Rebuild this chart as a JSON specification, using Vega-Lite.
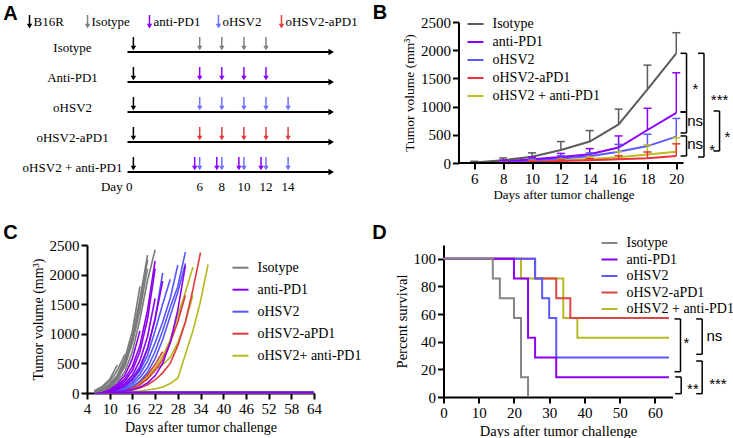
{
"$schema":"https://vega.github.io/schema/vega-lite/v6.json",
"background":"white",
"padding":{"left":3,"top":2,"right":0,"bottom":0},
"columns":2,
"bounds":"flush",
"spacing":{"row":82,"column":129.5},
"resolve":{"scale":{"color":"independent","x":"independent","y":"independent"},"legend":{"color":"independent"},"axis":{"x":"independent","y":"independent"}},
"config":{
 "view":{"stroke":null},
 "style":{"guide-title":{"fontWeight":300}},
 "axis":{"grid":false,"format":"d","domainColor":"#000","domainWidth":2,"tickColor":"#000","tickWidth":2,"tickSize":6,"labelFont":"Liberation Serif","labelFontSize":15,"labelColor":"#000","titleFont":"Liberation Serif","titleColor":"#000","titleFontWeight":300,"labelPadding":2,"labelFlush":false,"labelOverlap":false},
 "legend":{"orient":"none","symbolType":"stroke","symbolSize":256,"symbolStrokeWidth":2,"labelFont":"Liberation Serif","labelFontSize":14,"labelColor":"#000","labelOffset":8,"padding":0,"labelLimit":300}
},
"datasets":{
 "alegend":[{"lab":"B16R","pos":-9.40,"g":"k"},{"lab":"Isotype","pos":-4.15,"g":"iso"},{"lab":"anti-PD1","pos":1.457,"g":"apd1"},{"lab":"oHSV2","pos":7.70,"g":"ohsv"},{"lab":"oHSV2-aPD1","pos":13.40,"g":"red"}],
 "arows":[{"row":1,"lab":"Isotype"},{"row":2,"lab":"Anti-PD1"},{"row":3,"lab":"oHSV2"},{"row":4,"lab":"oHSV2-aPD1"},{"row":5,"lab":"oHSV2 + anti-PD1"}],
 "aarr":[
  {"row":1,"day":0,"g":"k"},{"row":1,"day":6,"g":"iso"},{"row":1,"day":8,"g":"iso"},{"row":1,"day":10,"g":"iso"},{"row":1,"day":12,"g":"iso"},
  {"row":2,"day":0,"g":"k"},{"row":2,"day":6,"g":"apd1"},{"row":2,"day":8,"g":"apd1"},{"row":2,"day":10,"g":"apd1"},{"row":2,"day":12,"g":"apd1"},
  {"row":3,"day":0,"g":"k"},{"row":3,"day":6,"g":"ohsv"},{"row":3,"day":8,"g":"ohsv"},{"row":3,"day":10,"g":"ohsv"},{"row":3,"day":12,"g":"ohsv"},{"row":3,"day":14,"g":"ohsv"},
  {"row":4,"day":0,"g":"k"},{"row":4,"day":6,"g":"red"},{"row":4,"day":8,"g":"red"},{"row":4,"day":10,"g":"red"},{"row":4,"day":12,"g":"red"},{"row":4,"day":14,"g":"red"},
  {"row":5,"day":0,"g":"k"},{"row":5,"day":6,"g":"ohsv"},{"row":5,"day":8,"g":"ohsv"},{"row":5,"day":10,"g":"ohsv"},{"row":5,"day":12,"g":"ohsv"},{"row":5,"day":14,"g":"ohsv"}],
 "aarr2":[{"row":5,"day":6,"g":"apd1"},{"row":5,"day":8,"g":"apd1"},{"row":5,"day":10,"g":"apd1"},{"row":5,"day":12,"g":"apd1"}],
 "adays":[{"lab":"6","day":6},{"lab":"8","day":8},{"lab":"10","day":10},{"lab":"12","day":12},{"lab":"14","day":14}],
 "bm":[
  {"g":"oHSV2 + anti-PD1","day":6,"m":5,"e":8},{"g":"oHSV2 + anti-PD1","day":8,"m":15,"e":25},{"g":"oHSV2 + anti-PD1","day":10,"m":30,"e":50},{"g":"oHSV2 + anti-PD1","day":12,"m":45,"e":70},{"g":"oHSV2 + anti-PD1","day":14,"m":70,"e":110},{"g":"oHSV2 + anti-PD1","day":16,"m":100,"e":200},{"g":"oHSV2 + anti-PD1","day":18,"m":150,"e":320},{"g":"oHSV2 + anti-PD1","day":20,"m":200,"e":450},
  {"g":"oHSV2-aPD1","day":6,"m":5,"e":8},{"g":"oHSV2-aPD1","day":8,"m":10,"e":20},{"g":"oHSV2-aPD1","day":10,"m":20,"e":35},{"g":"oHSV2-aPD1","day":12,"m":35,"e":55},{"g":"oHSV2-aPD1","day":14,"m":50,"e":80},{"g":"oHSV2-aPD1","day":16,"m":65,"e":130},{"g":"oHSV2-aPD1","day":18,"m":85,"e":195},{"g":"oHSV2-aPD1","day":20,"m":125,"e":340},
  {"g":"oHSV2","day":6,"m":5,"e":10},{"g":"oHSV2","day":8,"m":25,"e":40},{"g":"oHSV2","day":10,"m":50,"e":80},{"g":"oHSV2","day":12,"m":80,"e":130},{"g":"oHSV2","day":14,"m":120,"e":180},{"g":"oHSV2","day":16,"m":200,"e":330},{"g":"oHSV2","day":18,"m":300,"e":510},{"g":"oHSV2","day":20,"m":467,"e":790},
  {"g":"anti-PD1","day":6,"m":5,"e":15},{"g":"anti-PD1","day":8,"m":30,"e":50},{"g":"anti-PD1","day":10,"m":65,"e":100},{"g":"anti-PD1","day":12,"m":105,"e":170},{"g":"anti-PD1","day":14,"m":155,"e":255},{"g":"anti-PD1","day":16,"m":275,"e":480},{"g":"anti-PD1","day":18,"m":585,"e":970},{"g":"anti-PD1","day":20,"m":890,"e":1600},
  {"g":"Isotype","day":6,"m":10,"e":30},{"g":"Isotype","day":8,"m":50,"e":90},{"g":"Isotype","day":10,"m":110,"e":180},{"g":"Isotype","day":12,"m":230,"e":380},{"g":"Isotype","day":14,"m":380,"e":575},{"g":"Isotype","day":16,"m":685,"e":955},{"g":"Isotype","day":18,"m":1305,"e":1735},{"g":"Isotype","day":20,"m":1945,"e":2310}],
 "bbr":[{"bx":20.71,"y1":1945,"y2":904},{"bx":20.71,"y1":904,"y2":532},{"bx":20.71,"y1":479,"y2":124},{"bx":21.92,"y1":1945,"y2":106},{"bx":23.0,"y1":922,"y2":213}],
 "bns":[{"lab":"ns","lx":21.31,"ly":745},{"lab":"ns","lx":21.31,"ly":337}],
 "bstar":[{"lab":"*","lx":21.33,"ly":1400},{"lab":"***","lx":23.0,"ly":1206},{"lab":"*","lx":22.49,"ly":319},{"lab":"*","lx":23.55,"ly":550}],
 "cl":[
  {"id":"O1","g":"oHSV2+ anti-PD1","d":6,"v":5},{"id":"O1","g":"oHSV2+ anti-PD1","d":8,"v":10},{"id":"O1","g":"oHSV2+ anti-PD1","d":10,"v":20},{"id":"O1","g":"oHSV2+ anti-PD1","d":12,"v":35},{"id":"O1","g":"oHSV2+ anti-PD1","d":14,"v":60},{"id":"O1","g":"oHSV2+ anti-PD1","d":16,"v":100},{"id":"O1","g":"oHSV2+ anti-PD1","d":18,"v":160},{"id":"O1","g":"oHSV2+ anti-PD1","d":20,"v":240},
  {"id":"O2","g":"oHSV2+ anti-PD1","d":6,"v":5},{"id":"O2","g":"oHSV2+ anti-PD1","d":8,"v":10},{"id":"O2","g":"oHSV2+ anti-PD1","d":10,"v":18},{"id":"O2","g":"oHSV2+ anti-PD1","d":12,"v":30},{"id":"O2","g":"oHSV2+ anti-PD1","d":14,"v":55},{"id":"O2","g":"oHSV2+ anti-PD1","d":16,"v":100},{"id":"O2","g":"oHSV2+ anti-PD1","d":18,"v":170},{"id":"O2","g":"oHSV2+ anti-PD1","d":20,"v":280},{"id":"O2","g":"oHSV2+ anti-PD1","d":22,"v":420},{"id":"O2","g":"oHSV2+ anti-PD1","d":24,"v":620},{"id":"O2","g":"oHSV2+ anti-PD1","d":26,"v":900},{"id":"O2","g":"oHSV2+ anti-PD1","d":28,"v":1300},{"id":"O2","g":"oHSV2+ anti-PD1","d":30,"v":1700},{"id":"O2","g":"oHSV2+ anti-PD1","d":32,"v":2130},
  {"id":"O3","g":"oHSV2+ anti-PD1","d":6,"v":4},{"id":"O3","g":"oHSV2+ anti-PD1","d":8,"v":8},{"id":"O3","g":"oHSV2+ anti-PD1","d":10,"v":14},{"id":"O3","g":"oHSV2+ anti-PD1","d":12,"v":25},{"id":"O3","g":"oHSV2+ anti-PD1","d":14,"v":45},{"id":"O3","g":"oHSV2+ anti-PD1","d":16,"v":80},{"id":"O3","g":"oHSV2+ anti-PD1","d":18,"v":150},{"id":"O3","g":"oHSV2+ anti-PD1","d":20,"v":260},{"id":"O3","g":"oHSV2+ anti-PD1","d":22,"v":400},{"id":"O3","g":"oHSV2+ anti-PD1","d":24,"v":480},{"id":"O3","g":"oHSV2+ anti-PD1","d":26,"v":600},{"id":"O3","g":"oHSV2+ anti-PD1","d":28,"v":850},{"id":"O3","g":"oHSV2+ anti-PD1","d":30,"v":1200},{"id":"O3","g":"oHSV2+ anti-PD1","d":32,"v":1650},
  {"id":"O4","g":"oHSV2+ anti-PD1","d":6,"v":3},{"id":"O4","g":"oHSV2+ anti-PD1","d":8,"v":5},{"id":"O4","g":"oHSV2+ anti-PD1","d":10,"v":8},{"id":"O4","g":"oHSV2+ anti-PD1","d":12,"v":12},{"id":"O4","g":"oHSV2+ anti-PD1","d":14,"v":18},{"id":"O4","g":"oHSV2+ anti-PD1","d":16,"v":25},{"id":"O4","g":"oHSV2+ anti-PD1","d":18,"v":35},{"id":"O4","g":"oHSV2+ anti-PD1","d":20,"v":50},{"id":"O4","g":"oHSV2+ anti-PD1","d":22,"v":70},{"id":"O4","g":"oHSV2+ anti-PD1","d":24,"v":100},{"id":"O4","g":"oHSV2+ anti-PD1","d":26,"v":160},{"id":"O4","g":"oHSV2+ anti-PD1","d":28,"v":250},{"id":"O4","g":"oHSV2+ anti-PD1","d":30,"v":650},{"id":"O4","g":"oHSV2+ anti-PD1","d":32,"v":1050},{"id":"O4","g":"oHSV2+ anti-PD1","d":34,"v":1550},{"id":"O4","g":"oHSV2+ anti-PD1","d":36,"v":2170},
  {"id":"O5","g":"oHSV2+ anti-PD1","d":6,"v":12},{"id":"O5","g":"oHSV2+ anti-PD1","d":64,"v":12},
  {"id":"O6","g":"oHSV2+ anti-PD1","d":6,"v":12},{"id":"O6","g":"oHSV2+ anti-PD1","d":64,"v":12},
  {"id":"O7","g":"oHSV2+ anti-PD1","d":6,"v":12},{"id":"O7","g":"oHSV2+ anti-PD1","d":64,"v":12},
  {"id":"R1","g":"oHSV2-aPD1","d":6,"v":5},{"id":"R1","g":"oHSV2-aPD1","d":8,"v":10},{"id":"R1","g":"oHSV2-aPD1","d":10,"v":20},{"id":"R1","g":"oHSV2-aPD1","d":12,"v":35},{"id":"R1","g":"oHSV2-aPD1","d":14,"v":60},{"id":"R1","g":"oHSV2-aPD1","d":16,"v":110},{"id":"R1","g":"oHSV2-aPD1","d":18,"v":190},{"id":"R1","g":"oHSV2-aPD1","d":20,"v":310},{"id":"R1","g":"oHSV2-aPD1","d":22,"v":480},{"id":"R1","g":"oHSV2-aPD1","d":24,"v":700},
  {"id":"R2","g":"oHSV2-aPD1","d":6,"v":5},{"id":"R2","g":"oHSV2-aPD1","d":8,"v":8},{"id":"R2","g":"oHSV2-aPD1","d":10,"v":14},{"id":"R2","g":"oHSV2-aPD1","d":12,"v":25},{"id":"R2","g":"oHSV2-aPD1","d":14,"v":45},{"id":"R2","g":"oHSV2-aPD1","d":16,"v":80},{"id":"R2","g":"oHSV2-aPD1","d":18,"v":140},{"id":"R2","g":"oHSV2-aPD1","d":20,"v":240},{"id":"R2","g":"oHSV2-aPD1","d":22,"v":380},{"id":"R2","g":"oHSV2-aPD1","d":24,"v":560},{"id":"R2","g":"oHSV2-aPD1","d":26,"v":850},{"id":"R2","g":"oHSV2-aPD1","d":28,"v":1200},{"id":"R2","g":"oHSV2-aPD1","d":30,"v":1650},
  {"id":"R3","g":"oHSV2-aPD1","d":6,"v":4},{"id":"R3","g":"oHSV2-aPD1","d":8,"v":6},{"id":"R3","g":"oHSV2-aPD1","d":10,"v":10},{"id":"R3","g":"oHSV2-aPD1","d":12,"v":18},{"id":"R3","g":"oHSV2-aPD1","d":14,"v":30},{"id":"R3","g":"oHSV2-aPD1","d":16,"v":50},{"id":"R3","g":"oHSV2-aPD1","d":18,"v":85},{"id":"R3","g":"oHSV2-aPD1","d":20,"v":140},{"id":"R3","g":"oHSV2-aPD1","d":22,"v":220},{"id":"R3","g":"oHSV2-aPD1","d":24,"v":340},{"id":"R3","g":"oHSV2-aPD1","d":26,"v":500},{"id":"R3","g":"oHSV2-aPD1","d":28,"v":800},{"id":"R3","g":"oHSV2-aPD1","d":30,"v":1200},{"id":"R3","g":"oHSV2-aPD1","d":32,"v":1750},{"id":"R3","g":"oHSV2-aPD1","d":34,"v":2370},
  {"id":"R4","g":"oHSV2-aPD1","d":6,"v":11},{"id":"R4","g":"oHSV2-aPD1","d":64,"v":11},
  {"id":"R5","g":"oHSV2-aPD1","d":6,"v":11},{"id":"R5","g":"oHSV2-aPD1","d":64,"v":11},
  {"id":"R6","g":"oHSV2-aPD1","d":6,"v":11},{"id":"R6","g":"oHSV2-aPD1","d":64,"v":11},
  {"id":"R7","g":"oHSV2-aPD1","d":6,"v":11},{"id":"R7","g":"oHSV2-aPD1","d":64,"v":11},
  {"id":"B1","g":"oHSV2","d":6,"v":10},{"id":"B1","g":"oHSV2","d":8,"v":20},{"id":"B1","g":"oHSV2","d":10,"v":40},{"id":"B1","g":"oHSV2","d":12,"v":75},{"id":"B1","g":"oHSV2","d":14,"v":140},{"id":"B1","g":"oHSV2","d":16,"v":260},{"id":"B1","g":"oHSV2","d":18,"v":450},{"id":"B1","g":"oHSV2","d":20,"v":750},{"id":"B1","g":"oHSV2","d":22,"v":1250},{"id":"B1","g":"oHSV2","d":24,"v":2030},
  {"id":"B2","g":"oHSV2","d":6,"v":10},{"id":"B2","g":"oHSV2","d":8,"v":18},{"id":"B2","g":"oHSV2","d":10,"v":35},{"id":"B2","g":"oHSV2","d":12,"v":65},{"id":"B2","g":"oHSV2","d":14,"v":120},{"id":"B2","g":"oHSV2","d":16,"v":220},{"id":"B2","g":"oHSV2","d":18,"v":380},{"id":"B2","g":"oHSV2","d":20,"v":640},{"id":"B2","g":"oHSV2","d":22,"v":1050},{"id":"B2","g":"oHSV2","d":24,"v":1500},{"id":"B2","g":"oHSV2","d":26,"v":1920},
  {"id":"B3","g":"oHSV2","d":6,"v":8},{"id":"B3","g":"oHSV2","d":8,"v":15},{"id":"B3","g":"oHSV2","d":10,"v":30},{"id":"B3","g":"oHSV2","d":12,"v":55},{"id":"B3","g":"oHSV2","d":14,"v":100},{"id":"B3","g":"oHSV2","d":16,"v":180},{"id":"B3","g":"oHSV2","d":18,"v":320},{"id":"B3","g":"oHSV2","d":20,"v":540},{"id":"B3","g":"oHSV2","d":22,"v":850},{"id":"B3","g":"oHSV2","d":24,"v":1200},{"id":"B3","g":"oHSV2","d":26,"v":1600},{"id":"B3","g":"oHSV2","d":28,"v":2160},
  {"id":"B4","g":"oHSV2","d":6,"v":8},{"id":"B4","g":"oHSV2","d":8,"v":14},{"id":"B4","g":"oHSV2","d":10,"v":25},{"id":"B4","g":"oHSV2","d":12,"v":45},{"id":"B4","g":"oHSV2","d":14,"v":80},{"id":"B4","g":"oHSV2","d":16,"v":150},{"id":"B4","g":"oHSV2","d":18,"v":260},{"id":"B4","g":"oHSV2","d":20,"v":430},{"id":"B4","g":"oHSV2","d":22,"v":700},{"id":"B4","g":"oHSV2","d":24,"v":1050},{"id":"B4","g":"oHSV2","d":26,"v":1450},{"id":"B4","g":"oHSV2","d":28,"v":1800},{"id":"B4","g":"oHSV2","d":30,"v":2380},
  {"id":"B5","g":"oHSV2","d":6,"v":6},{"id":"B5","g":"oHSV2","d":8,"v":12},{"id":"B5","g":"oHSV2","d":10,"v":20},{"id":"B5","g":"oHSV2","d":12,"v":35},{"id":"B5","g":"oHSV2","d":14,"v":60},{"id":"B5","g":"oHSV2","d":16,"v":110},{"id":"B5","g":"oHSV2","d":18,"v":200},{"id":"B5","g":"oHSV2","d":20,"v":350},{"id":"B5","g":"oHSV2","d":22,"v":580},{"id":"B5","g":"oHSV2","d":24,"v":900},{"id":"B5","g":"oHSV2","d":26,"v":1300},{"id":"B5","g":"oHSV2","d":28,"v":1700},{"id":"B5","g":"oHSV2","d":30,"v":2190},
  {"id":"B6","g":"oHSV2","d":6,"v":10},{"id":"B6","g":"oHSV2","d":64,"v":10},
  {"id":"B7","g":"oHSV2","d":6,"v":10},{"id":"B7","g":"oHSV2","d":64,"v":10},
  {"id":"P1","g":"anti-PD1","d":6,"v":10},{"id":"P1","g":"anti-PD1","d":8,"v":30},{"id":"P1","g":"anti-PD1","d":10,"v":70},{"id":"P1","g":"anti-PD1","d":12,"v":150},{"id":"P1","g":"anti-PD1","d":14,"v":300},{"id":"P1","g":"anti-PD1","d":16,"v":580},{"id":"P1","g":"anti-PD1","d":18,"v":1050},
  {"id":"P2","g":"anti-PD1","d":6,"v":10},{"id":"P2","g":"anti-PD1","d":8,"v":25},{"id":"P2","g":"anti-PD1","d":10,"v":60},{"id":"P2","g":"anti-PD1","d":12,"v":120},{"id":"P2","g":"anti-PD1","d":14,"v":240},{"id":"P2","g":"anti-PD1","d":16,"v":450},{"id":"P2","g":"anti-PD1","d":18,"v":800},{"id":"P2","g":"anti-PD1","d":20,"v":1400},{"id":"P2","g":"anti-PD1","d":22,"v":2230},
  {"id":"P3","g":"anti-PD1","d":6,"v":8},{"id":"P3","g":"anti-PD1","d":8,"v":20},{"id":"P3","g":"anti-PD1","d":10,"v":50},{"id":"P3","g":"anti-PD1","d":12,"v":100},{"id":"P3","g":"anti-PD1","d":14,"v":200},{"id":"P3","g":"anti-PD1","d":16,"v":380},{"id":"P3","g":"anti-PD1","d":18,"v":700},{"id":"P3","g":"anti-PD1","d":20,"v":1250},{"id":"P3","g":"anti-PD1","d":22,"v":2100},
  {"id":"P4","g":"anti-PD1","d":6,"v":8},{"id":"P4","g":"anti-PD1","d":8,"v":18},{"id":"P4","g":"anti-PD1","d":10,"v":40},{"id":"P4","g":"anti-PD1","d":12,"v":80},{"id":"P4","g":"anti-PD1","d":14,"v":160},{"id":"P4","g":"anti-PD1","d":16,"v":300},{"id":"P4","g":"anti-PD1","d":18,"v":550},{"id":"P4","g":"anti-PD1","d":20,"v":950},{"id":"P4","g":"anti-PD1","d":22,"v":1600},
  {"id":"P5","g":"anti-PD1","d":6,"v":6},{"id":"P5","g":"anti-PD1","d":8,"v":15},{"id":"P5","g":"anti-PD1","d":10,"v":30},{"id":"P5","g":"anti-PD1","d":12,"v":60},{"id":"P5","g":"anti-PD1","d":14,"v":120},{"id":"P5","g":"anti-PD1","d":16,"v":230},{"id":"P5","g":"anti-PD1","d":18,"v":420},{"id":"P5","g":"anti-PD1","d":20,"v":750},{"id":"P5","g":"anti-PD1","d":22,"v":1250},{"id":"P5","g":"anti-PD1","d":24,"v":1890},
  {"id":"P6","g":"anti-PD1","d":6,"v":5},{"id":"P6","g":"anti-PD1","d":8,"v":8},{"id":"P6","g":"anti-PD1","d":10,"v":12},{"id":"P6","g":"anti-PD1","d":12,"v":20},{"id":"P6","g":"anti-PD1","d":14,"v":35},{"id":"P6","g":"anti-PD1","d":16,"v":60},{"id":"P6","g":"anti-PD1","d":18,"v":100},{"id":"P6","g":"anti-PD1","d":20,"v":170},{"id":"P6","g":"anti-PD1","d":22,"v":290},{"id":"P6","g":"anti-PD1","d":24,"v":500},{"id":"P6","g":"anti-PD1","d":26,"v":850},{"id":"P6","g":"anti-PD1","d":28,"v":1400},{"id":"P6","g":"anti-PD1","d":30,"v":2150},
  {"id":"P7","g":"anti-PD1","d":6,"v":9},{"id":"P7","g":"anti-PD1","d":64,"v":9},
  {"id":"I1","g":"Isotype","d":6,"v":40},{"id":"I1","g":"Isotype","d":8,"v":110},{"id":"I1","g":"Isotype","d":10,"v":230},{"id":"I1","g":"Isotype","d":12,"v":470},
  {"id":"I2","g":"Isotype","d":6,"v":35},{"id":"I2","g":"Isotype","d":8,"v":90},{"id":"I2","g":"Isotype","d":10,"v":190},{"id":"I2","g":"Isotype","d":12,"v":380},{"id":"I2","g":"Isotype","d":14,"v":650},
  {"id":"I3","g":"Isotype","d":6,"v":25},{"id":"I3","g":"Isotype","d":8,"v":60},{"id":"I3","g":"Isotype","d":10,"v":150},{"id":"I3","g":"Isotype","d":12,"v":300},{"id":"I3","g":"Isotype","d":14,"v":580},{"id":"I3","g":"Isotype","d":16,"v":1050},{"id":"I3","g":"Isotype","d":18,"v":1800},
  {"id":"I4","g":"Isotype","d":6,"v":25},{"id":"I4","g":"Isotype","d":8,"v":55},{"id":"I4","g":"Isotype","d":10,"v":130},{"id":"I4","g":"Isotype","d":12,"v":270},{"id":"I4","g":"Isotype","d":14,"v":520},{"id":"I4","g":"Isotype","d":16,"v":950},{"id":"I4","g":"Isotype","d":18,"v":1600},{"id":"I4","g":"Isotype","d":20,"v":2330},
  {"id":"I5","g":"Isotype","d":6,"v":20},{"id":"I5","g":"Isotype","d":8,"v":45},{"id":"I5","g":"Isotype","d":10,"v":110},{"id":"I5","g":"Isotype","d":12,"v":230},{"id":"I5","g":"Isotype","d":14,"v":450},{"id":"I5","g":"Isotype","d":16,"v":850},{"id":"I5","g":"Isotype","d":18,"v":1400},{"id":"I5","g":"Isotype","d":20,"v":2100},
  {"id":"I6","g":"Isotype","d":6,"v":20},{"id":"I6","g":"Isotype","d":8,"v":50},{"id":"I6","g":"Isotype","d":10,"v":120},{"id":"I6","g":"Isotype","d":12,"v":250},{"id":"I6","g":"Isotype","d":14,"v":480},{"id":"I6","g":"Isotype","d":16,"v":900},{"id":"I6","g":"Isotype","d":18,"v":1500},{"id":"I6","g":"Isotype","d":20,"v":2250},
  {"id":"I7","g":"Isotype","d":6,"v":15},{"id":"I7","g":"Isotype","d":8,"v":35},{"id":"I7","g":"Isotype","d":10,"v":85},{"id":"I7","g":"Isotype","d":12,"v":190},{"id":"I7","g":"Isotype","d":14,"v":360},{"id":"I7","g":"Isotype","d":16,"v":700},{"id":"I7","g":"Isotype","d":18,"v":1250},{"id":"I7","g":"Isotype","d":20,"v":1900},{"id":"I7","g":"Isotype","d":22,"v":2420}],
 "dl":[
  {"g":"oHSV2 + anti-PD1","d":0,"p":100},{"g":"oHSV2 + anti-PD1","d":22,"p":85.7},{"g":"oHSV2 + anti-PD1","d":34,"p":57.1},{"g":"oHSV2 + anti-PD1","d":38,"p":42.9},{"g":"oHSV2 + anti-PD1","d":64,"p":42.9},
  {"g":"oHSV2-aPD1","d":0,"p":100},{"g":"oHSV2-aPD1","d":26,"p":85.7},{"g":"oHSV2-aPD1","d":32,"p":71.4},{"g":"oHSV2-aPD1","d":36,"p":57.1},{"g":"oHSV2-aPD1","d":64,"p":57.1},
  {"g":"oHSV2","d":0,"p":100},{"g":"oHSV2","d":26,"p":85.7},{"g":"oHSV2","d":28,"p":71.4},{"g":"oHSV2","d":30,"p":57.1},{"g":"oHSV2","d":32,"p":28.6},{"g":"oHSV2","d":64,"p":28.6},
  {"g":"anti-PD1","d":0,"p":100},{"g":"anti-PD1","d":20,"p":85.7},{"g":"anti-PD1","d":24,"p":42.9},{"g":"anti-PD1","d":26,"p":28.6},{"g":"anti-PD1","d":32,"p":14.3},{"g":"anti-PD1","d":64,"p":14.3},
  {"g":"Isotype","d":0,"p":100},{"g":"Isotype","d":14,"p":85.7},{"g":"Isotype","d":16,"p":71.4},{"g":"Isotype","d":20,"p":57.1},{"g":"Isotype","d":22,"p":14.3},{"g":"Isotype","d":24,"p":0}],
 "dbr":[{"bx":67.27,"y1":56.5,"y2":18.3},{"bx":73.43,"y1":56.5,"y2":30.9},{"bx":67.47,"y1":14.5,"y2":2.4},{"bx":73.43,"y1":26.05,"y2":2.4}],
 "dns":[{"lab":"ns","lx":76.9,"ly":44.1}],
 "dstar":[{"lab":"*","lx":68.97,"ly":43},{"lab":"**","lx":70.8,"ly":9.4},{"lab":"***","lx":77.9,"ly":12.8}]
},
"concat":[
 {"width":227,"height":141,
  "layer":[
   {"data":{"values":[{}]},"mark":{"type":"text","text":"A","font":"Liberation Sans","fontWeight":"bold","fontSize":20,"align":"center","baseline":"middle","color":"#000"},
    "encoding":{"x":{"datum":-11.12,"type":"quantitative","scale":{"domain":[-4.199,16.344],"nice":false,"zero":false},"axis":null},"y":{"datum":-0.267,"type":"quantitative","scale":{"domain":[0,4.7],"nice":false,"zero":false,"reverse":true},"axis":null}}},
   {"data":{"name":"alegend"},"mark":{"type":"rule","strokeWidth":1.5,"yOffset":-15,"y2Offset":-3},
    "encoding":{"x":{"field":"pos","type":"quantitative","axis":null},"y":{"datum":0.267,"type":"quantitative","axis":null},"y2":{"datum":0.267},
     "color":{"field":"g","type":"nominal","scale":{"domain":["k","iso","apd1","ohsv","red"],"range":["#000000","#808080","#8B00FF","#7070FF","#E03C3C"]},"legend":null}}},
   {"data":{"name":"alegend"},"mark":{"type":"point","shape":"triangle-down","filled":true,"size":30,"opacity":1,"yOffset":-4},
    "encoding":{"x":{"field":"pos","type":"quantitative","axis":null},"y":{"datum":0.267,"type":"quantitative","axis":null},"color":{"field":"g","type":"nominal","legend":null}}},
   {"data":{"name":"alegend"},"mark":{"type":"text","align":"left","baseline":"middle","dx":4,"font":"Liberation Serif","fontSize":13,"color":"#000"},
    "encoding":{"x":{"field":"pos","type":"quantitative","axis":null},"y":{"datum":0,"type":"quantitative","axis":null},"text":{"field":"lab"}}},
   {"data":{"name":"arows"},"mark":{"type":"rule","strokeWidth":1.8,"color":"#000"},
    "encoding":{"x":{"datum":-0.534,"type":"quantitative","axis":null},"x2":{"datum":17.9},"y":{"field":"row","type":"quantitative","axis":null}}},
   {"data":{"name":"arows"},"mark":{"type":"point","shape":"triangle-right","filled":true,"size":40,"opacity":1,"color":"#000"},
    "encoding":{"x":{"datum":17.9,"type":"quantitative","axis":null},"y":{"field":"row","type":"quantitative","axis":null}}},
   {"data":{"name":"arows"},"mark":{"type":"text","align":"center","baseline":"middle","yOffset":-4,"font":"Liberation Serif","fontSize":13,"color":"#000"},
    "encoding":{"x":{"datum":-5.51,"type":"quantitative","axis":null},"y":{"field":"row","type":"quantitative","axis":null},"text":{"field":"lab"}}},
   {"data":{"name":"aarr"},"mark":{"type":"rule","strokeWidth":1.5,"yOffset":-15,"y2Offset":-3},
    "encoding":{"x":{"field":"day","type":"quantitative","axis":null},"y":{"field":"row","type":"quantitative","axis":null},"y2":{"field":"row"},"color":{"field":"g","type":"nominal","legend":null}}},
   {"data":{"name":"aarr"},"mark":{"type":"point","shape":"triangle-down","filled":true,"size":30,"opacity":1,"yOffset":-4},
    "encoding":{"x":{"field":"day","type":"quantitative","axis":null},"y":{"field":"row","type":"quantitative","axis":null},"color":{"field":"g","type":"nominal","legend":null}}},
   {"data":{"name":"aarr2"},"mark":{"type":"rule","strokeWidth":1.5,"xOffset":-5,"yOffset":-15,"y2Offset":-3},
    "encoding":{"x":{"field":"day","type":"quantitative","axis":null},"y":{"field":"row","type":"quantitative","axis":null},"y2":{"field":"row"},"color":{"field":"g","type":"nominal","legend":null}}},
   {"data":{"name":"aarr2"},"mark":{"type":"point","shape":"triangle-down","filled":true,"size":30,"opacity":1,"xOffset":-5,"yOffset":-4},
    "encoding":{"x":{"field":"day","type":"quantitative","axis":null},"y":{"field":"row","type":"quantitative","axis":null},"color":{"field":"g","type":"nominal","legend":null}}},
   {"data":{"name":"adays"},"mark":{"type":"text","align":"center","baseline":"middle","font":"Liberation Serif","fontSize":13,"color":"#000"},
    "encoding":{"x":{"field":"day","type":"quantitative","axis":null},"y":{"datum":5.5,"type":"quantitative","axis":null},"text":{"field":"lab"}}},
   {"data":{"values":[{}]},"mark":{"type":"text","text":"Day 0","align":"right","baseline":"middle","dx":-1,"font":"Liberation Serif","fontSize":13,"color":"#000"},
    "encoding":{"x":{"datum":0,"type":"quantitative","axis":null},"y":{"datum":5.5,"type":"quantitative","axis":null}}}
  ]},
 {"width":240,"height":141,
  "layer":[
   {"data":{"name":"bm"},"mark":{"type":"line","strokeWidth":2},
    "encoding":{"x":{"field":"day","type":"quantitative","scale":{"domain":[3.86,20.5],"nice":false,"zero":false},"axis":{"values":[6,8,10,12,14,16,18,20],"title":"Days after tumor challenge","titleFontSize":13,"titleFontWeight":300,"titlePadding":2,"domain":false}},
     "y":{"field":"m","type":"quantitative","scale":{"domain":[0,2500],"nice":false},"axis":{"values":[0,500,1000,1500,2000,2500],"format":"d","title":"Tumor volume (mm³)","titleFontSize":13.5,"titleFontWeight":300,"titlePadding":4,"offset":-15}},
     "color":{"field":"g","type":"nominal","scale":{"domain":["Isotype","anti-PD1","oHSV2","oHSV2-aPD1","oHSV2 + anti-PD1"],"range":["#5c5c5c","#8B00FF","#5A5AFF","#E8343A","#BDBD20"]},"legend":{"title":null,"legendX":23,"legendY":-7,"rowPadding":2}}}},
   {"data":{"name":"bm"},"mark":{"type":"rule","strokeWidth":1.5},
    "encoding":{"x":{"field":"day","type":"quantitative","axis":{"values":[6,8,10,12,14,16,18,20],"title":"Days after tumor challenge","titleFontSize":13,"titleFontWeight":300,"titlePadding":2,"domain":false}},"y":{"field":"m","type":"quantitative","axis":{"values":[0,500,1000,1500,2000,2500],"format":"d","title":"Tumor volume (mm³)","titleFontSize":13.5,"titleFontWeight":300,"titlePadding":4,"offset":-15}},"y2":{"field":"e"},"color":{"field":"g","type":"nominal","legend":{"title":null,"legendX":23,"legendY":-7,"rowPadding":2}}}},
   {"data":{"name":"bm"},"mark":{"type":"rule","strokeWidth":1.5,"xOffset":-4,"x2Offset":4},
    "encoding":{"x":{"field":"day","type":"quantitative","axis":{"values":[6,8,10,12,14,16,18,20],"title":"Days after tumor challenge","titleFontSize":13,"titleFontWeight":300,"titlePadding":2,"domain":false}},"x2":{"field":"day"},"y":{"field":"e","type":"quantitative","axis":{"values":[0,500,1000,1500,2000,2500],"format":"d","title":"Tumor volume (mm³)","titleFontSize":13.5,"titleFontWeight":300,"titlePadding":4,"offset":-15}},"color":{"field":"g","type":"nominal","legend":{"title":null,"legendX":23,"legendY":-7,"rowPadding":2}}}},
   {"data":{"values":[{}]},"mark":{"type":"rule","strokeWidth":2,"color":"#000"},
    "encoding":{"x":{"datum":4.9,"type":"quantitative","axis":{"values":[6,8,10,12,14,16,18,20],"title":"Days after tumor challenge","titleFontSize":13,"titleFontWeight":300,"titlePadding":2,"domain":false}},"x2":{"datum":20.5},"y":{"datum":0,"type":"quantitative","axis":{"values":[0,500,1000,1500,2000,2500],"format":"d","title":"Tumor volume (mm³)","titleFontSize":13.5,"titleFontWeight":300,"titlePadding":4,"offset":-15}}}},
   {"data":{"name":"bbr"},"mark":{"type":"rule","strokeWidth":1.5,"color":"#000"},
    "encoding":{"x":{"field":"bx","type":"quantitative","axis":{"values":[6,8,10,12,14,16,18,20],"title":"Days after tumor challenge","titleFontSize":13,"titleFontWeight":300,"titlePadding":2,"domain":false}},"y":{"field":"y1","type":"quantitative","axis":{"values":[0,500,1000,1500,2000,2500],"format":"d","title":"Tumor volume (mm³)","titleFontSize":13.5,"titleFontWeight":300,"titlePadding":4,"offset":-15}},"y2":{"field":"y2"}}},
   {"data":{"name":"bbr"},"mark":{"type":"rule","strokeWidth":1.5,"color":"#000","xOffset":-6},
    "encoding":{"x":{"field":"bx","type":"quantitative","axis":{"values":[6,8,10,12,14,16,18,20],"title":"Days after tumor challenge","titleFontSize":13,"titleFontWeight":300,"titlePadding":2,"domain":false}},"x2":{"field":"bx"},"y":{"field":"y1","type":"quantitative","axis":{"values":[0,500,1000,1500,2000,2500],"format":"d","title":"Tumor volume (mm³)","titleFontSize":13.5,"titleFontWeight":300,"titlePadding":4,"offset":-15}}}},
   {"data":{"name":"bbr"},"mark":{"type":"rule","strokeWidth":1.5,"color":"#000","xOffset":-6},
    "encoding":{"x":{"field":"bx","type":"quantitative","axis":{"values":[6,8,10,12,14,16,18,20],"title":"Days after tumor challenge","titleFontSize":13,"titleFontWeight":300,"titlePadding":2,"domain":false}},"x2":{"field":"bx"},"y":{"field":"y2","type":"quantitative","axis":{"values":[0,500,1000,1500,2000,2500],"format":"d","title":"Tumor volume (mm³)","titleFontSize":13.5,"titleFontWeight":300,"titlePadding":4,"offset":-15}}}},
   {"data":{"name":"bns"},"mark":{"type":"text","font":"Liberation Sans","fontSize":15,"align":"center","baseline":"middle","color":"#000"},
    "encoding":{"x":{"field":"lx","type":"quantitative","axis":{"values":[6,8,10,12,14,16,18,20],"title":"Days after tumor challenge","titleFontSize":13,"titleFontWeight":300,"titlePadding":2,"domain":false}},"y":{"field":"ly","type":"quantitative","axis":{"values":[0,500,1000,1500,2000,2500],"format":"d","title":"Tumor volume (mm³)","titleFontSize":13.5,"titleFontWeight":300,"titlePadding":4,"offset":-15}},"text":{"field":"lab"}}},
   {"data":{"name":"bstar"},"mark":{"type":"text","font":"Liberation Sans","fontSize":15,"align":"center","baseline":"middle","dy":5,"color":"#000"},
    "encoding":{"x":{"field":"lx","type":"quantitative","axis":{"values":[6,8,10,12,14,16,18,20],"title":"Days after tumor challenge","titleFontSize":13,"titleFontWeight":300,"titlePadding":2,"domain":false}},"y":{"field":"ly","type":"quantitative","axis":{"values":[0,500,1000,1500,2000,2500],"format":"d","title":"Tumor volume (mm³)","titleFontSize":13.5,"titleFontWeight":300,"titlePadding":4,"offset":-15}},"text":{"field":"lab"}}},
   {"data":{"values":[{}]},"mark":{"type":"text","text":"B","font":"Liberation Sans","fontWeight":"bold","fontSize":20,"align":"center","baseline":"middle","color":"#000"},
    "encoding":{"x":{"datum":-0.543,"type":"quantitative","axis":{"values":[6,8,10,12,14,16,18,20],"title":"Days after tumor challenge","titleFontSize":13,"titleFontWeight":300,"titlePadding":2,"domain":false}},"y":{"datum":2660,"type":"quantitative","axis":{"values":[0,500,1000,1500,2000,2500],"format":"d","title":"Tumor volume (mm³)","titleFontSize":13.5,"titleFontWeight":300,"titlePadding":4,"offset":-15}}}}
  ]},
 {"width":227,"height":148,
  "layer":[
   {"data":{"name":"cl"},"mark":{"type":"line","strokeWidth":1.6},
    "encoding":{"x":{"field":"d","type":"quantitative","scale":{"domain":[4,64],"nice":false,"zero":false},"axis":{"values":[4,10,16,22,28,34,40,46,52,58,64],"title":"Days after tumor challenge","titleFontSize":14,"titleFontWeight":300,"titlePadding":4}},
     "y":{"field":"v","type":"quantitative","scale":{"domain":[0,2500],"nice":false},"axis":{"values":[0,500,1000,1500,2000,2500],"format":"d","title":"Tumor volume (mm³)","titleFontSize":14,"titleFontWeight":300,"titlePadding":4}},
     "detail":{"field":"id"},
     "color":{"field":"g","type":"nominal","scale":{"domain":["Isotype","anti-PD1","oHSV2","oHSV2-aPD1","oHSV2+ anti-PD1"],"range":["#7a7a7a","#8B00EE","#5555FF","#DC3C3C","#B5B81E"]},"legend":{"title":null,"legendX":144.5,"legendY":13.7,"rowPadding":6}}}},
   {"data":{"values":[{}]},"mark":{"type":"text","text":"C","font":"Liberation Sans","fontWeight":"bold","fontSize":20,"align":"center","baseline":"middle","color":"#000"},
    "encoding":{"x":{"datum":-16.22,"type":"quantitative","axis":{"values":[4,10,16,22,28,34,40,46,52,58,64],"title":"Days after tumor challenge","titleFontSize":14,"titleFontWeight":300,"titlePadding":4}},"y":{"datum":2711,"type":"quantitative","axis":{"values":[0,500,1000,1500,2000,2500],"format":"d","title":"Tumor volume (mm³)","titleFontSize":14,"titleFontWeight":300,"titlePadding":4}}}}
  ]},
 {"width":229,"height":152,
  "layer":[
   {"data":{"name":"dl"},"mark":{"type":"line","strokeWidth":2,"interpolate":"step-after"},
    "encoding":{"x":{"field":"d","type":"quantitative","scale":{"domain":[0,65],"nice":false,"zero":false},"axis":{"values":[0,10,20,30,40,50,60],"title":"Days after tumor challenge","titleFontSize":14.5,"titleFontWeight":300,"titlePadding":4}},
     "y":{"field":"p","type":"quantitative","scale":{"domain":[0,110],"nice":false},"axis":{"values":[0,20,40,60,80,100],"title":"Percent survival","titleFontSize":14.5,"titleFontWeight":300,"titlePadding":4}},
     "color":{"field":"g","type":"nominal","scale":{"domain":["Isotype","anti-PD1","oHSV2","oHSV2-aPD1","oHSV2 + anti-PD1"],"range":["#858585","#9000F0","#5A5AFF","#DC4545","#B8B828"]},"legend":{"title":null,"legendX":157,"legendY":-11,"rowPadding":0.5}}}},
   {"data":{"name":"dbr"},"mark":{"type":"rule","strokeWidth":1.5,"color":"#000"},
    "encoding":{"x":{"field":"bx","type":"quantitative","axis":{"values":[0,10,20,30,40,50,60],"title":"Days after tumor challenge","titleFontSize":14.5,"titleFontWeight":300,"titlePadding":4}},"y":{"field":"y1","type":"quantitative","axis":{"values":[0,20,40,60,80,100],"title":"Percent survival","titleFontSize":14.5,"titleFontWeight":300,"titlePadding":4}},"y2":{"field":"y2"}}},
   {"data":{"name":"dbr"},"mark":{"type":"rule","strokeWidth":1.5,"color":"#000","xOffset":-6},
    "encoding":{"x":{"field":"bx","type":"quantitative","axis":{"values":[0,10,20,30,40,50,60],"title":"Days after tumor challenge","titleFontSize":14.5,"titleFontWeight":300,"titlePadding":4}},"x2":{"field":"bx"},"y":{"field":"y1","type":"quantitative","axis":{"values":[0,20,40,60,80,100],"title":"Percent survival","titleFontSize":14.5,"titleFontWeight":300,"titlePadding":4}}}},
   {"data":{"name":"dbr"},"mark":{"type":"rule","strokeWidth":1.5,"color":"#000","xOffset":-6},
    "encoding":{"x":{"field":"bx","type":"quantitative","axis":{"values":[0,10,20,30,40,50,60],"title":"Days after tumor challenge","titleFontSize":14.5,"titleFontWeight":300,"titlePadding":4}},"x2":{"field":"bx"},"y":{"field":"y2","type":"quantitative","axis":{"values":[0,20,40,60,80,100],"title":"Percent survival","titleFontSize":14.5,"titleFontWeight":300,"titlePadding":4}}}},
   {"data":{"name":"dns"},"mark":{"type":"text","font":"Liberation Sans","fontSize":15,"align":"center","baseline":"middle","color":"#000"},
    "encoding":{"x":{"field":"lx","type":"quantitative","axis":{"values":[0,10,20,30,40,50,60],"title":"Days after tumor challenge","titleFontSize":14.5,"titleFontWeight":300,"titlePadding":4}},"y":{"field":"ly","type":"quantitative","axis":{"values":[0,20,40,60,80,100],"title":"Percent survival","titleFontSize":14.5,"titleFontWeight":300,"titlePadding":4}},"text":{"field":"lab"}}},
   {"data":{"name":"dstar"},"mark":{"type":"text","font":"Liberation Sans","fontSize":15,"align":"center","baseline":"middle","dy":5,"color":"#000"},
    "encoding":{"x":{"field":"lx","type":"quantitative","axis":{"values":[0,10,20,30,40,50,60],"title":"Days after tumor challenge","titleFontSize":14.5,"titleFontWeight":300,"titlePadding":4}},"y":{"field":"ly","type":"quantitative","axis":{"values":[0,20,40,60,80,100],"title":"Percent survival","titleFontSize":14.5,"titleFontWeight":300,"titlePadding":4}},"text":{"field":"lab"}}},
   {"data":{"values":[{}]},"mark":{"type":"text","text":"D","font":"Liberation Sans","fontWeight":"bold","fontSize":20,"align":"center","baseline":"middle","color":"#000"},
    "encoding":{"x":{"datum":-18.17,"type":"quantitative","axis":{"values":[0,10,20,30,40,50,60],"title":"Days after tumor challenge","titleFontSize":14.5,"titleFontWeight":300,"titlePadding":4}},"y":{"datum":119,"type":"quantitative","axis":{"values":[0,20,40,60,80,100],"title":"Percent survival","titleFontSize":14.5,"titleFontWeight":300,"titlePadding":4}}}}
  ]}
]
}
